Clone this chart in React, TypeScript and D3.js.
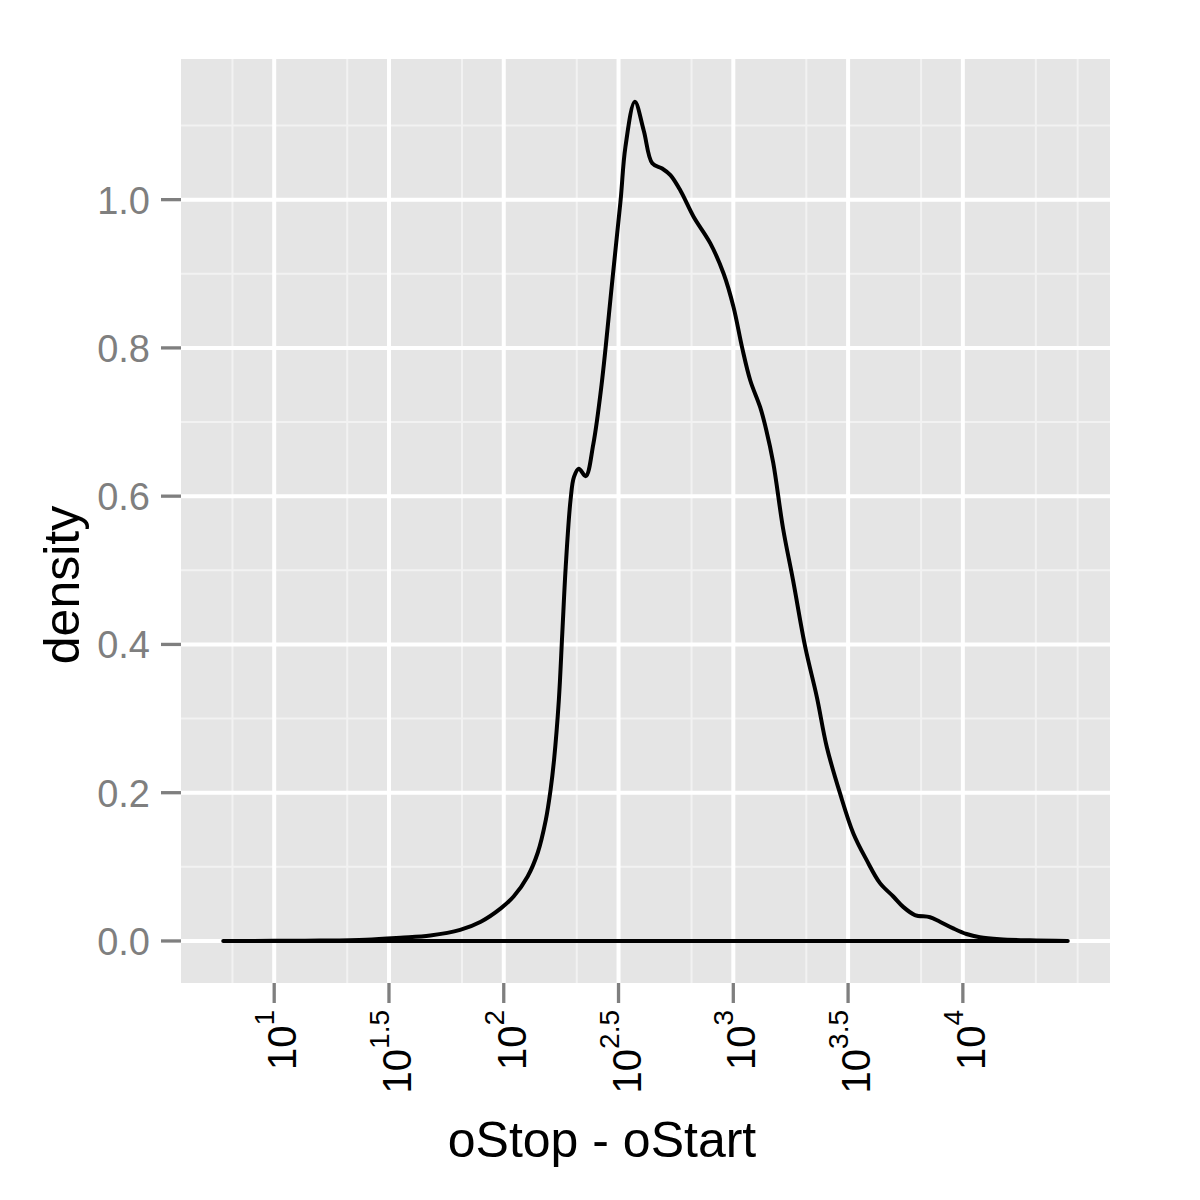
import React from "react";
import * as d3 from "d3";

// density of log10(oStop - oStart)
const logLength = [
  0.778, 1.0, 1.2, 1.4, 1.55, 1.68, 1.81, 1.9, 1.987, 2.043, 2.104, 2.148,
  2.183, 2.204, 2.219, 2.24, 2.255, 2.27, 2.291, 2.306, 2.327, 2.357, 2.39,
  2.426, 2.473, 2.509, 2.53, 2.571, 2.61, 2.647, 2.69, 2.726, 2.77, 2.827,
  2.9, 2.958, 3.001, 3.038, 3.074, 3.117, 3.143, 3.174, 3.217, 3.26, 3.313,
  3.364, 3.407, 3.465, 3.523, 3.581, 3.639, 3.697, 3.74, 3.791, 3.857, 3.9,
  3.958, 4.016, 4.074, 4.161, 4.291, 4.457,
];
const density = [
  0, 0.0002, 0.0006, 0.0018, 0.0045, 0.0075, 0.015, 0.026, 0.044, 0.06, 0.087,
  0.119, 0.163, 0.204, 0.244, 0.325, 0.415, 0.505, 0.595, 0.626, 0.637, 0.627,
  0.67, 0.75, 0.891, 0.999, 1.071, 1.132, 1.093, 1.049, 1.042, 1.033, 1.012,
  0.977, 0.941, 0.9, 0.855, 0.801, 0.756, 0.72, 0.69, 0.645, 0.556, 0.487,
  0.397, 0.329, 0.262, 0.199, 0.145, 0.109, 0.078, 0.06, 0.046, 0.035, 0.032,
  0.026, 0.017, 0.0094, 0.005, 0.0023, 0.0008, 0,
];

const xMajorExp = [1, 1.5, 2, 2.5, 3, 3.5, 4];
const xMinorExp = [0.818, 1.318, 1.818, 2.318, 2.818, 3.318, 3.818, 4.318, 4.5];
const yMajor = [0, 0.2, 0.4, 0.6, 0.8, 1.0];
const yMinor = [0.1, 0.3, 0.5, 0.7, 0.9, 1.1];

const FONT = "'Liberation Sans', Arial, Helvetica, sans-serif";

export default function App() {
  const width = 1200;
  const height = 1200;
  const left = 181;
  const right = 1110;
  const top = 59;
  const bottom = 983;

  const x = d3
    .scaleLog()
    .domain([Math.pow(10, 0.594), Math.pow(10, 4.641)])
    .range([left, right]);
  const y = d3.scaleLinear().domain([-0.0567, 1.1897]).range([bottom, top]);

  const pts: [number, number][] = logLength.map((l, i) => [
    Math.pow(10, l),
    density[i],
  ]);
  const line = d3
    .line<[number, number]>()
    .x((d) => x(d[0]))
    .y((d) => y(Math.max(0, d[1])))
    .curve(d3.curveCatmullRom.alpha(0.5));

  return (
    <svg
      width={width}
      height={height}
      style={{ position: "absolute", left: 0, top: 0, background: "#fff" }}
    >
      <rect x={left} y={top} width={right - left} height={bottom - top} fill="#E5E5E5" />
      {/* minor grid */}
      {xMinorExp.map((e) => (
        <line key={"xm" + e} x1={x(Math.pow(10, e))} x2={x(Math.pow(10, e))} y1={top} y2={bottom} stroke="#F2F2F2" strokeWidth={2} />
      ))}
      {yMinor.map((v) => (
        <line key={"ym" + v} x1={left} x2={right} y1={y(v)} y2={y(v)} stroke="#F2F2F2" strokeWidth={2} />
      ))}
      {/* major grid */}
      {xMajorExp.map((e) => (
        <line key={"xg" + e} x1={x(Math.pow(10, e))} x2={x(Math.pow(10, e))} y1={top} y2={bottom} stroke="#fff" strokeWidth={4} />
      ))}
      {yMajor.map((v) => (
        <line key={"yg" + v} x1={left} x2={right} y1={y(v)} y2={y(v)} stroke="#fff" strokeWidth={4} />
      ))}

      <path
        d={line(pts) + "Z"}
        fill="none"
        stroke="#000"
        strokeWidth={4}
        strokeLinejoin="round"
        strokeLinecap="round"
      />

      {/* y axis */}
      {yMajor.map((v) => (
        <g key={"yt" + v}>
          <line x1={left - 20} x2={left} y1={y(v)} y2={y(v)} stroke="#7F7F7F" strokeWidth={3.3} />
          <text x={150} y={y(v) + 14} textAnchor="end" fontFamily={FONT} fontSize={38} fill="#7F7F7F">
            {v.toFixed(1)}
          </text>
        </g>
      ))}

      {/* x axis */}
      {xMajorExp.map((e) => {
        const px = x(Math.pow(10, e));
        return (
          <g key={"xt" + e}>
            <line x1={px} x2={px} y1={bottom} y2={bottom + 20} stroke="#7F7F7F" strokeWidth={3.3} />
            <text
              transform={`translate(${px},1010) rotate(-90)`}
              y={22}
              textAnchor="end"
              fontFamily={FONT}
              fill="#000"
            >
              <tspan fontSize={40}>10</tspan>
              <tspan fontSize={28} dy={-22}>{String(e)}</tspan>
            </text>
          </g>
        );
      })}

      <text x={602} y={1157} textAnchor="middle" fontFamily={FONT} fontSize={50} fill="#000">
        oStop - oStart
      </text>
      <text
        transform="translate(79,585) rotate(-90)"
        textAnchor="middle"
        fontFamily={FONT}
        fontSize={50}
        fill="#000"
      >
        density
      </text>
    </svg>
  );
}
